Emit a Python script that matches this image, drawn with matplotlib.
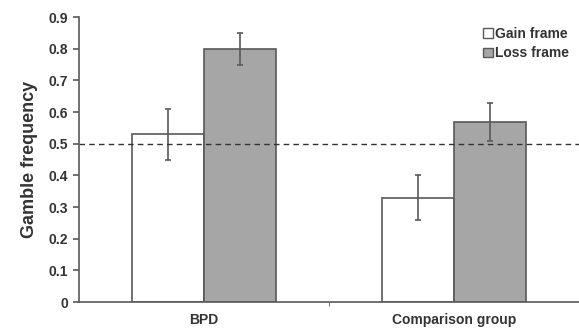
import numpy as np
import matplotlib.pyplot as plt
from matplotlib.patches import Patch

groups = ["BPD", "Comparison group"]
gain = [0.53, 0.33]
loss = [0.80, 0.57]
gain_err = [0.08, 0.07]
loss_err = [0.05, 0.06]

plt.rcParams['font.family'] = ['Liberation Sans', 'DejaVu Sans']
plt.rcParams['font.weight'] = 'bold'
plt.rcParams['axes.labelweight'] = 'bold'
plt.rcParams['text.color'] = '#333333'
plt.rcParams['axes.labelcolor'] = '#333333'
plt.rcParams['xtick.labelcolor'] = '#333333'
plt.rcParams['ytick.labelcolor'] = '#333333'

edge = '#595959'
fig = plt.figure(figsize=(5.79, 3.29), dpi=100)
ax = fig.add_axes([0.136, 0.082, 0.864, 0.866])

x = np.arange(len(groups))
w = 0.288
ax.bar(x - w / 2, gain, w, color='white', edgecolor=edge, linewidth=1.2,
       yerr=gain_err, error_kw=dict(ecolor=edge, elinewidth=1.2, capsize=2.5, capthick=1.2))
ax.bar(x + w / 2, loss, w, color='#a6a6a6', edgecolor=edge, linewidth=1.2,
       yerr=loss_err, error_kw=dict(ecolor=edge, elinewidth=1.2, capsize=2.5, capthick=1.2))

ax.axhline(0.5, color='#333333', linestyle=(0, (4, 3)), linewidth=1)

ax.set_xlim(-0.5, 1.5)
ax.set_ylim(0, 0.9)
ax.set_yticks(np.arange(0, 0.91, 0.1))
ax.set_yticklabels(['0'] + ['%.1f' % v for v in np.arange(0.1, 0.91, 0.1)], fontsize=10)
ax.set_xticks(x)
ax.set_xticklabels(groups, fontsize=10)
ax.tick_params(axis='x', length=0, pad=8)
ax.set_xticks([0.5], minor=True)
ax.tick_params(axis='x', which='minor', length=3, color=edge)
ax.tick_params(axis='y', length=4, color=edge, width=1.2)
ax.set_ylabel("Gamble frequency", fontsize=13, labelpad=8)

for s in ['top', 'right']:
    ax.spines[s].set_visible(False)
for s in ['left', 'bottom']:
    ax.spines[s].set_color(edge)
    ax.spines[s].set_linewidth(1.2)

handles = [Patch(facecolor='white', edgecolor=edge, label='Gain frame'),
           Patch(facecolor='#a6a6a6', edgecolor=edge, label='Loss frame')]
ax.legend(handles=handles, loc='upper right', bbox_to_anchor=(1.0, 1.0), frameon=False,
          fontsize=10, handlelength=0.7, handleheight=0.7, handletextpad=0.2,
          labelspacing=0.4, borderaxespad=0.3)

fig.savefig("out.png", dpi=100)
